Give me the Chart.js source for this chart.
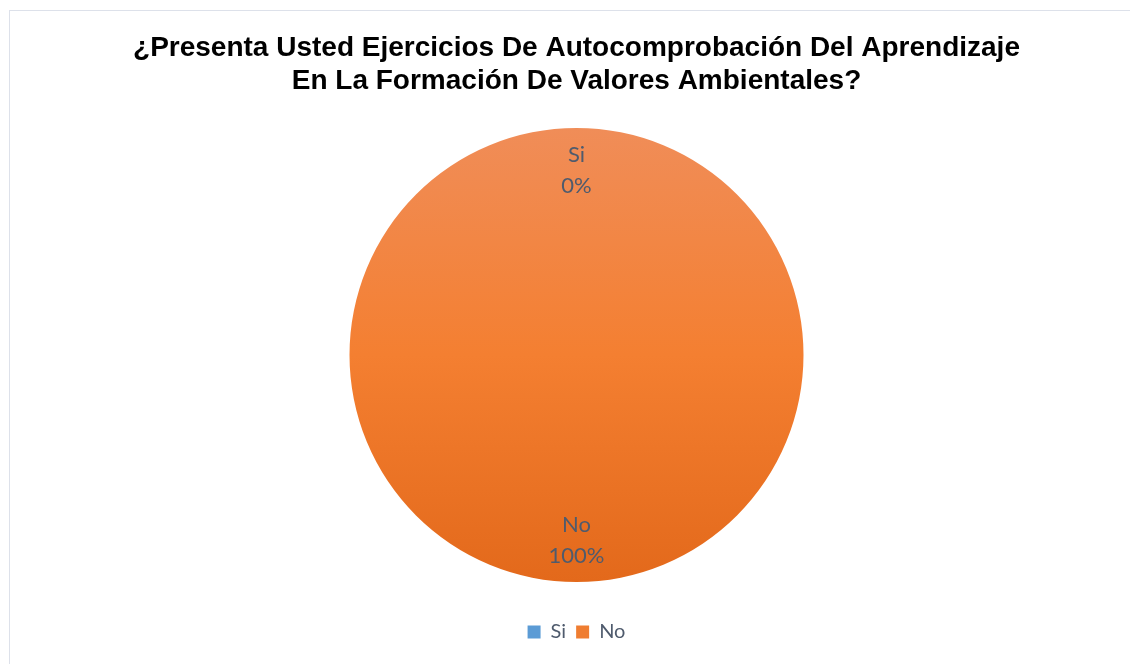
<!DOCTYPE html>
<html>
<head>
<meta charset="utf-8">
<script src="https://cdn.jsdelivr.net/npm/chart.js@4/dist/chart.umd.min.js"></script>
<style>
  html, body { margin: 0; padding: 0; background: #ffffff; overflow: hidden; }
  #frame { position: absolute; left: 9px; top: 10px; width: 1200px; height: 700px;
           border-left: 1px solid #dde1ea; border-top: 1px solid #dde1ea; box-sizing: border-box; }
  #wrap { position: absolute; left: 0; top: 0; width: 1130px; height: 664px; }
</style>
</head>
<body>
<div id="frame"></div>
<div id="wrap"><canvas id="c" width="1130" height="664"></canvas></div>
<script>
const titleLines = [
  "¿Presenta Usted Ejercicios De Autocomprobación Del Aprendizaje",
  "En La Formación De Valores Ambientales?"
];
const categories = ["Si", "No"];
const values = [0, 100];
const sliceColors = ["#5b9bd5", "#ef7d31"];

const PIE_RADIUS = 227;
const LABEL_COLOR = "#4f5b6d";

function orangeGradient(ctx) {
  const chart = ctx.chart;
  const area = chart.chartArea;
  if (!area) return sliceColors[ctx.dataIndex];
  const cy = (area.top + area.bottom) / 2;
  const g = chart.ctx.createLinearGradient(0, cy - PIE_RADIUS, 0, cy + PIE_RADIUS);
  if (ctx.dataIndex === 0) {
    g.addColorStop(0, "#7fb2e2");
    g.addColorStop(1, "#3f84c8");
  } else {
    g.addColorStop(0, "#f08d58");
    g.addColorStop(0.5, "#f47f31");
    g.addColorStop(1, "#e3691b");
  }
  return g;
}

const sliceLabels = {
  id: "sliceLabels",
  afterDatasetsDraw(chart) {
    const meta = chart.getDatasetMeta(0);
    const data = chart.data.datasets[0].data;
    const total = data.reduce((a, b) => a + b, 0);
    const c = chart.ctx;
    c.save();
    c.font = "22px Lato, 'Open Sans', sans-serif";
    c.fillStyle = LABEL_COLOR;
    c.textAlign = "center";
    c.textBaseline = "middle";
    meta.data.forEach((arc, i) => {
      const p = arc.getProps(["x", "y", "startAngle", "endAngle", "outerRadius"], true);
      const mid = (p.startAngle + p.endAngle) / 2;
      const r = p.outerRadius * 0.815;
      const x = p.x + Math.cos(mid) * r;
      const y = p.y + Math.sin(mid) * r;
      const pct = Math.round(data[i] / total * 100) + "%";
      c.fillText(chart.data.labels[i], x, y - 15.5);
      c.fillText(pct, x, y + 15.5);
    });
    c.restore();
  }
};

new Chart(document.getElementById("c"), {
  type: "pie",
  data: {
    labels: categories,
    datasets: [{
      data: values,
      backgroundColor: orangeGradient,
      borderWidth: 0,
      radius: PIE_RADIUS
    }]
  },
  plugins: [sliceLabels],
  options: {
    responsive: false,
    animation: false,
    layout: { padding: { top: 10, bottom: 12, left: 23, right: 0 } },
    plugins: {
      tooltip: { enabled: false },
      title: {
        display: true,
        text: titleLines,
        color: "#000000",
        font: { family: "'Liberation Sans', Arial, sans-serif", size: 28, weight: "bold", lineHeight: 33 / 28 },
        padding: { top: 22, bottom: 0 }
      },
      legend: {
        display: true,
        position: "bottom",
        labels: {
          color: LABEL_COLOR,
          font: { family: "Lato, 'Open Sans', sans-serif", size: 20 },
          boxWidth: 13,
          boxHeight: 13,
          padding: 10,
          generateLabels(chart) {
            return chart.data.labels.map((l, i) => ({
              text: l, fillStyle: sliceColors[i], strokeStyle: sliceColors[i],
              lineWidth: 0, hidden: false, index: i, fontColor: LABEL_COLOR
            }));
          }
        }
      }
    }
  }
});
</script>
</body>
</html>
